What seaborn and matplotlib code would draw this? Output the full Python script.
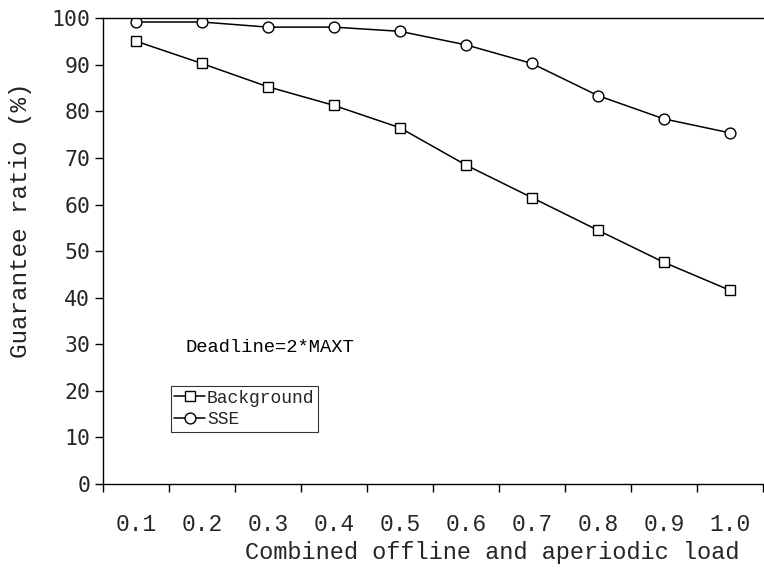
import matplotlib
matplotlib.use("Agg")
import matplotlib.pyplot as plt
import seaborn as sns
import pandas as pd
import numpy as np

loads = ["0.1", "0.2", "0.3", "0.4", "0.5", "0.6", "0.7", "0.8", "0.9", "1.0"]
background = [95.1, 90.3, 85.3, 81.3, 76.5, 68.5, 61.5, 54.5, 47.6, 41.6]
sse = [99.2, 99.2, 98.1, 98.1, 97.2, 94.3, 90.3, 83.4, 78.4, 75.4]
y_ticks = [0, 10, 20, 30, 40, 50, 60, 70, 80, 90, 100]

sns.set_theme(style="white")
plt.rcParams["font.family"] = ["Liberation Mono", "DejaVu Sans Mono"]

fig = plt.figure(figsize=(7.64, 5.71), dpi=100)
ax = fig.add_axes([0.1345, 0.1524, 0.864, 0.8156])

pos = np.arange(len(loads))
df = pd.DataFrame({"pos": np.concatenate([pos, pos]),
                   "value": background + sse,
                   "series": ["Background"] * len(loads) + ["SSE"] * len(loads)})

for name, mk, ms in [("Background", "s", 7.2), ("SSE", "o", 7.8)]:
    sns.lineplot(data=df[df.series == name], x="pos", y="value", ax=ax,
                 color="black", linewidth=1.1, marker=mk, markersize=ms,
                 markerfacecolor="white", markeredgecolor="black",
                 markeredgewidth=1.0, label=name)

ax.set_xlim(-0.5, len(loads) - 0.5)
ax.set_ylim(0, 100)
ax.set_xticks(pos)
ax.set_xticklabels(loads, fontfamily="Liberation Mono", fontsize=16.5)
ax.set_xticks(np.arange(-0.5, len(loads), 1.0), minor=True)
ax.tick_params(axis="x", which="major", length=0, pad=21)
ax.tick_params(axis="x", which="minor", length=6, width=1, direction="out",
               color="black", bottom=True)
ax.set_yticks(y_ticks)
ax.set_yticklabels([str(v) for v in y_ticks], fontfamily="DejaVu Sans Mono", fontsize=15.5)
ax.tick_params(axis="y", length=6, width=1, direction="out", color="black",
               left=True, pad=3)

for s in ["left", "bottom", "top"]:
    ax.spines[s].set_visible(True)
    ax.spines[s].set_color("black")
    ax.spines[s].set_linewidth(1.0)
ax.spines["right"].set_visible(False)

ax.set_xlabel("Combined offline and aperiodic load", fontsize=17,
              fontfamily="Liberation Mono", ha="right", va="center")
ax.xaxis.set_label_coords(0.965, -0.148)
ax.set_ylabel("Guarantee ratio (%)", fontsize=17.5, fontfamily="Liberation Mono",
              ha="center", va="center", color="#222222")
ax.yaxis.set_label_coords(-0.125, 0.567)

ax.text(0.756, 29.2, "Deadline=2*MAXT", fontsize=13.5, fontfamily="Liberation Mono",
        va="center", ha="left", color="black")

leg = ax.legend(loc="lower left", bbox_to_anchor=(0.103, 0.112), borderaxespad=0,
                prop={"family": "Liberation Mono", "size": 13}, frameon=True,
                fancybox=False, shadow=False, handlelength=1.7, handletextpad=0.1,
                borderpad=0.2, labelspacing=0.25)
leg.get_frame().set_edgecolor("black")
leg.get_frame().set_linewidth(0.8)

fig.savefig("out.png", dpi=100, facecolor="white")
